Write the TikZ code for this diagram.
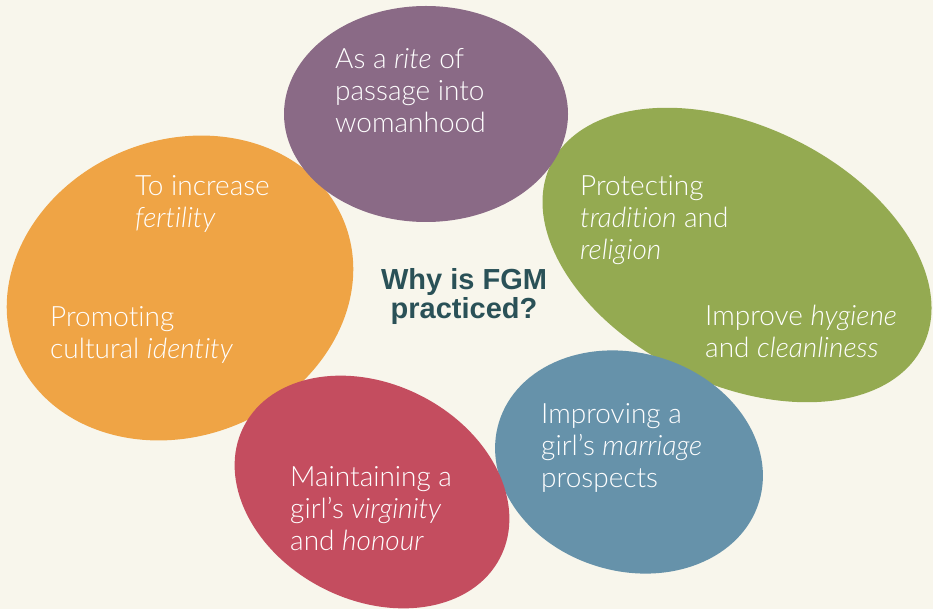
\documentclass[tikz,border=0pt]{standalone}
\usepackage{fontspec}
\setmainfont{Lato}[Ligatures=NoCommon, UprightFont={* Light}, ItalicFont={* Light Italic}]
\newfontfamily\titlefont{Liberation Sans}
\usetikzlibrary{shapes.geometric}
\definecolor{bgc}{HTML}{F8F6EC}
\definecolor{purplec}{HTML}{8A6A86}
\definecolor{greenc}{HTML}{94AA51}
\definecolor{orangec}{HTML}{EFA445}
\definecolor{bluec}{HTML}{6692AA}
\definecolor{redc}{HTML}{C44D5F}
\definecolor{titlec}{HTML}{2A5157}
\begin{document}
\begin{tikzpicture}[x=1pt,y=-1pt,
  blob/.style={ellipse, draw=none, inner sep=0pt},
  lbl/.style={anchor=base west, inner sep=0pt, align=left, text=white,
    font=\fontsize{28}{32}\selectfont},
  ttl/.style={anchor=base, inner sep=0pt, align=center, text=titlec,
    font=\titlefont\bfseries\fontsize{29}{29}\selectfont}]
\fill[bgc] (0,0) rectangle (933,609);
\useasboundingbox (0,0) rectangle (933,609);
% blobs
\node[blob, fill=orangec, minimum width=354pt, minimum height=296pt, rotate=22] (orange) at (180,288) {};
\node[blob, fill=greenc, minimum width=414pt, minimum height=258pt, rotate=-26] (green) at (737,255) {};
\node[blob, fill=purplec, minimum width=284pt, minimum height=216pt] (purple) at (426,114) {};
\node[blob, fill=bluec, minimum width=272pt, minimum height=218pt, rotate=-17] (blue) at (629,462) {};
\node[blob, fill=redc, minimum width=288pt, minimum height=216pt, rotate=-27] (red) at (372,492) {};
% texts (anchored at the baseline of the last line)
\node[lbl] (t1) at (335,133) {As a \textit{rite} of\\passage into\\womanhood};
\node[lbl] (t2) at (135,228) {To increase\\\textit{fertility}};
\node[lbl] (t3) at (50,358) {Promoting\\cultural \textit{identity}};
\node[lbl] (t4) at (580,260) {Protecting\\\textit{tradition} and\\\textit{religion}};
\node[lbl] (t5) at (705,357) {Improve \textit{hygiene}\\and \textit{cleanliness}};
\node[lbl] (t6) at (541,487) {Improving a\\girl’s \textit{marriage}\\prospects};
\node[lbl] (t7) at (290,550) {Maintaining a\\girl’s \textit{virginity}\\and \textit{honour}};
\node[ttl] (title) at (464,318) {Why is FGM\\[-0.5pt]practiced?};
\end{tikzpicture}
\end{document}
